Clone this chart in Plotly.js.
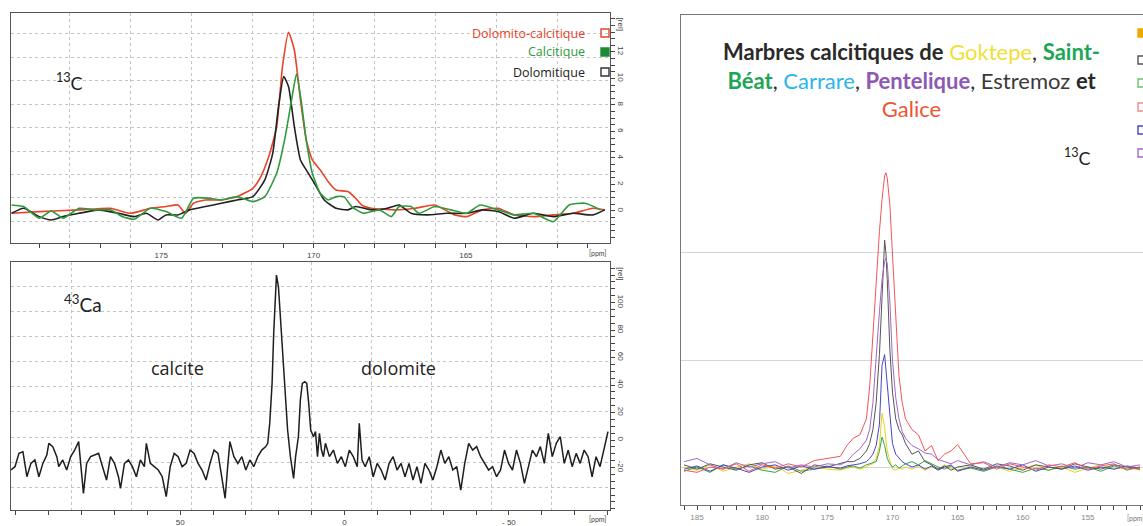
<!DOCTYPE html>
<html><head><meta charset="utf-8">
<script src="https://cdn.plot.ly/plotly-3.0.1.min.js"></script>
<style>html,body{margin:0;padding:0;background:#fff;overflow:hidden}</style>
</head><body><div id="chart" style="width:1143px;height:526px"></div>
<script>
// ---------- Panel A : 13C spectra (ppm, rel) ----------
const c13RedX = [179.91,179.0,177.70,176.66,176.01,175.36,174.84,174.45,174.20,173.94,173.55,173.03,172.51,171.99,171.73,171.47,171.21,171.02,170.82,170.63,170.43,170.24,170.04,169.78,169.52,169.26,168.87,168.62,168.42,168.10,167.32,166.67,166.02,165.37,164.98,164.46,163.94,163.42,162.78,162.13,161.48,160.83,160.44];
const c13RedY = [-0.18,-0.05,0.08,0.20,-0.18,0.20,0.33,0.45,-0.18,0.58,0.83,0.83,1.08,1.71,2.59,4.10,6.36,10.89,13.48,12.15,8.38,5.36,3.85,3.09,2.21,1.58,1.46,0.96,0.45,0.20,0.08,0.20,0.45,-0.30,-0.43,0.08,0.20,-0.30,-0.43,-0.30,-0.18,0.20,0.08];
const c13BlackX = [179.91,179.52,179.0,178.61,178.22,177.70,177.05,176.40,175.88,175.49,175.10,174.84,174.45,174.07,173.55,173.03,172.51,171.99,171.60,171.34,171.15,170.98,170.82,170.63,170.43,170.17,169.91,169.65,169.26,168.87,168.62,168.10,167.58,167.19,166.80,166.28,165.63,164.98,164.46,163.94,163.42,162.78,162.13,161.48,160.83,160.44];
const c13BlackY = [-0.18,0.20,-0.43,-0.68,-0.43,-0.18,0.08,-0.18,-0.43,-0.18,-0.68,-0.30,-0.30,0.08,0.33,0.58,0.83,1.08,2.34,4.35,7.87,10.14,9.38,6.36,3.85,2.84,1.84,0.83,0.20,0.08,0.33,0.08,0.20,0.45,-0.18,-0.30,-0.18,-0.18,0.08,-0.05,-0.55,-0.18,-0.43,-0.18,-0.30,0.08];
const c13GreenX = [179.91,179.52,179.0,178.61,178.22,177.70,177.18,176.66,176.27,175.88,175.36,174.84,174.33,173.94,173.42,173.03,172.51,171.99,171.60,171.21,170.95,170.72,170.56,170.41,170.24,170.04,169.78,169.52,169.26,169.0,168.75,168.36,167.84,167.45,167.19,166.80,166.54,166.02,165.50,164.98,164.53,163.94,163.42,162.78,162.13,161.61,161.09,160.57];
const c13GreenY = [0.45,0.33,-0.55,0.0,-0.55,0.20,0.08,0.08,-0.43,-0.63,0.20,-0.05,-0.55,0.96,0.96,0.83,1.08,0.70,1.08,2.84,5.36,8.38,10.34,8.38,5.36,2.84,1.33,0.83,1.08,1.08,0.33,-0.18,0.08,-0.43,0.33,0.33,-0.18,0.33,0.08,-0.18,0.45,0.08,-0.30,-0.18,-0.81,0.45,0.58,0.08];
const c13Names = ["Dolomito-calcitique","Calcitique","Dolomitique"];

// ---------- Panel B : 43Ca spectrum ----------
const caX = [101.45,100.24,99.03,97.82,96.61,95.39,94.18,92.97,91.76,90.55,
 89.95,88.74,87.52,86.92,85.71,84.50,83.29,82.08,80.87,80.26,
 79.41,78.44,77.23,76.02,74.81,73.60,72.39,71.18,69.97,68.76,
 68.15,66.94,65.73,64.52,63.31,62.10,60.89,60.28,59.07,57.86,
 56.65,55.44,54.23,53.02,51.81,50.60,49.39,48.18,46.97,45.76,
 44.55,43.33,42.12,40.91,39.70,38.49,37.28,36.31,35.46,34.86,
 33.65,32.44,31.23,30.02,28.81,27.60,26.38,25.17,23.96,23.36,
 22.75,22.03,21.54,21.06,20.70,20.09,19.49,18.88,18.15,17.31,
 16.46,15.49,14.88,14.03,13.43,12.83,12.10,11.49,10.89,10.28,
 9.44,8.83,8.22,7.62,7.01,6.41,5.80,4.59,3.38,2.17,
 0.96,-0.25,-1.46,-2.67,-3.88,-4.49,-5.34,-6.30,-7.52,-8.73,
 -9.94,-11.15,-12.36,-13.57,-14.78,-15.99,-17.20,-18.41,-19.62,-20.83,
 -22.04,-23.25,-24.46,-25.68,-26.89,-28.10,-29.31,-30.52,-31.73,-32.94,
 -34.15,-35.36,-36.57,-37.78,-38.99,-40.20,-41.41,-42.62,-43.84,-45.05,
 -46.26,-47.47,-48.68,-49.89,-51.10,-52.31,-53.52,-54.73,-55.94,-57.15,
 -58.36,-59.57,-60.78,-61.99,-63.21,-64.42,-65.63,-66.84,-68.05,-69.26,
 -70.47,-71.68,-72.89,-74.10,-75.31,-76.52,-77.73,-78.94,-80.15];
const caY = [-21.8,-19.4,-9.7,-8.5,-26.7,-17.0,-14.5,-26.7,-17.0,-10.9,
 -2.4,-4.8,-12.1,-19.4,-14.5,-21.8,-12.1,-7.3,-1.2,-19.4,
 -38.8,-17.0,-12.1,-10.9,-9.7,-19.4,-29.1,-12.1,-17.0,-26.7,
 -35.1,-17.0,-14.5,-19.4,-26.7,-14.5,-19.4,-2.4,-17.0,-19.4,
 -21.8,-26.7,-41.2,-19.4,-9.7,-12.1,-19.4,-17.0,-7.3,-9.7,
 -17.0,-21.8,-29.1,-17.0,-7.3,-9.7,-26.7,-42.4,-17.0,-1.2,
 -12.1,-17.0,-12.1,-21.8,-14.5,-19.4,-12.1,-7.3,-4.8,-2.4,
 12.1,41.2,77.6,109.1,120.0,111.5,89.7,65.5,36.4,7.3,
 -12.1,-27.9,-12.1,2.4,29.1,41.2,42.4,41.2,26.7,7.3,
 2.4,6.1,-12.1,4.9,-7.3,-12.1,-2.4,-12.1,-7.3,-17.0,
 -12.1,-19.4,-7.3,-12.1,-19.4,12.1,-14.5,-19.4,-12.1,-26.7,
 -17.0,-21.8,-29.1,-17.0,-12.1,-21.8,-17.0,-26.7,-17.0,-29.1,
 -19.4,-31.5,-17.0,-21.8,-29.1,-19.4,-7.3,-17.0,-12.1,-21.8,
 -19.4,-36.4,-17.0,-2.4,-7.3,-4.8,-12.1,-17.0,-21.8,-19.4,
 -26.7,-21.8,-7.3,-17.0,-21.8,-7.3,-17.0,-31.5,-19.4,-7.3,
 -12.1,-4.8,-17.0,4.9,-12.1,-2.4,2.4,-17.0,-7.3,-19.4,
 -9.7,-17.0,-7.3,-12.1,-26.7,-12.1,-19.4,-7.3,6.1];

// ---------- Panel C : 13C of calcitic marbles ----------
const marbleX = [186,185,184,183,182,181,180,179,178,177,176,175,174,173.5,173,172.5,172,171.75,171.5,171.25,171,170.8,170.6,170.5,170.4,170.2,170,169.75,169.5,169.25,169,168.5,168,167.5,167,166.5,166,165.5,165,164,163,162,161,160,159,158,157,156,155,154,153,152,151];
const goktepeY = [0.0,-0.03,0.02,-0.04,0.0,0.03,-0.02,0.01,-0.06,-0.03,0.0,-0.02,-0.03,-0.01,0.0,-0.02,0.0,0.02,0.03,0.08,0.2,0.5,0.38,0.25,0.15,0.06,-0.02,-0.03,-0.01,-0.02,0.0,-0.02,0.01,-0.03,0.0,-0.02,0.02,-0.01,-0.03,0.01,-0.02,0.0,-0.04,-0.01,0.02,-0.03,0.0,-0.05,-0.01,0.02,-0.02,0.0,-0.03];
const saintBeatY = [-0.04,0.0,-0.05,0.02,-0.02,0.01,-0.03,-0.05,0.01,-0.04,-0.02,0.01,-0.02,0.0,0.01,-0.01,0.02,0.03,0.04,0.05,0.15,0.28,0.2,0.12,0.08,0.03,0.0,0.02,-0.01,0.01,0.03,0.05,0.02,0.06,0.03,0.0,-0.02,0.01,-0.03,-0.01,-0.04,0.0,-0.02,-0.05,-0.01,-0.03,0.01,-0.02,0.0,-0.04,0.01,-0.02,0.0];
const carrareY = [-0.02,0.01,-0.04,0.02,-0.01,-0.05,0.0,0.02,-0.03,0.01,-0.02,0.0,-0.01,0.01,0.02,0.03,0.05,0.08,0.12,0.2,0.4,0.95,1.05,0.9,0.75,0.45,0.22,0.12,0.08,0.05,0.03,0.0,0.02,-0.02,0.01,-0.03,0.0,0.02,-0.04,0.0,-0.03,0.01,-0.02,0.02,-0.04,0.0,-0.02,0.01,-0.03,0.0,-0.02,0.01,-0.01];
const estremozY = [0.02,-0.02,0.03,0.0,-0.03,0.02,0.04,-0.02,0.0,-0.06,0.02,0.0,0.03,0.05,0.05,0.08,0.15,0.22,0.35,0.6,1.05,1.65,2.12,2.0,1.75,1.1,0.7,0.45,0.35,0.3,0.22,0.12,0.15,0.05,0.02,-0.02,0.01,-0.03,0.0,0.02,-0.02,0.03,0.01,-0.03,0.02,0.0,-0.02,0.03,0.0,-0.02,0.02,0.0,-0.02];
const penteliqueY = [0.05,0.08,0.02,-0.02,0.04,0.0,0.03,0.05,-0.01,0.02,0.0,0.03,0.02,0.05,0.12,0.17,0.25,0.35,0.6,1.05,1.45,1.75,1.92,1.95,1.9,1.55,1.0,0.65,0.45,0.33,0.27,0.2,0.17,0.13,0.12,0.07,0.05,0.03,0.06,0.02,0.05,0.0,0.04,0.02,0.06,0.01,0.03,-0.01,0.04,0.02,0.05,0.0,0.02];
const galiceY = [-0.03,-0.05,0.0,-0.02,0.03,-0.04,0.02,-0.01,0.03,0.0,0.06,0.08,0.1,0.2,0.27,0.3,0.45,0.75,1.25,1.75,2.2,2.5,2.72,2.75,2.7,2.45,2.0,1.35,0.85,0.6,0.45,0.35,0.3,0.15,0.2,0.06,0.12,0.15,0.21,0.03,0.04,-0.02,0.03,0.0,-0.03,0.02,0.0,0.04,-0.02,0.01,0.03,-0.03,0.0];
const marbleNames = ["Goktepe","Saint-Béat","Carrare","Estremoz","Pentelique","Galice"];

// ---------- tick labels ----------
const topTickLabels = [175,170,165];
const caTickLabels = [50,0,-50];
const marbleTickLabels = [185,180,175,170,165,160,155];
const topYLabels = [0,2,4,6,8,10,12];
const caYLabels = [-20,0,20,40,60,80,100];

function ticks(from,to,step,labelled,fmt,extra){
  const v=[],t=[];
  for(let k=from; step>0 ? k<=to+1e-9 : k>=to-1e-9; k+=step){
    const r=Math.round(k*100)/100; v.push(r);
    if(extra && Math.abs(r-extra[0])<1e-6) t.push(extra[1]);
    else t.push(labelled.some(l=>Math.abs(l-r)<1e-6)?fmt(r):' ');
  }
  return {tickvals:v,ticktext:t};
}
const tf={size:8,color:'#444',family:'Liberation Sans, Arial, sans-serif'};
const tx1=ticks(180,161,-1,topTickLabels,String);
const ty1=ticks(-2,14.5,0.5,topYLabels,String,[14,'[rel]']);
const tx2=ticks(100,-80,-10,caTickLabels,v=>v<0?'- '+(-v):String(v));
const ty2=ticks(-50,125,5,caYLabels,String,[120,'[rel]']);
const tx3=ticks(186,151,-1,marbleTickLabels,String);

const frame={showline:true,linecolor:'#555',linewidth:1,mirror:true,zeroline:false,showgrid:false,tickfont:tf,tickcolor:'#444'};
const grid={showgrid:true,griddash:'dot',gridcolor:'#c4c4c4',gridwidth:1,showticklabels:false,ticks:'',zeroline:false,showline:false,tickmode:'linear'};

const traces=[
 {x:c13RedX,y:c13RedY,name:c13Names[0],mode:'lines',line:{color:'#e8432b',width:1.6,shape:'spline',smoothing:0.5},xaxis:'x',yaxis:'y'},
 {x:c13BlackX,y:c13BlackY,name:c13Names[2],mode:'lines',line:{color:'#222',width:1.6,shape:'spline',smoothing:0.5},xaxis:'x',yaxis:'y'},
 {x:c13GreenX,y:c13GreenY,name:c13Names[1],mode:'lines',line:{color:'#2f9a3c',width:1.6,shape:'spline',smoothing:0.5},xaxis:'x',yaxis:'y'},
 {x:caX,y:caY,name:'43Ca',mode:'lines',line:{color:'#1e1e1e',width:1.5},xaxis:'x2',yaxis:'y2'},
 {x:marbleX,y:goktepeY,name:marbleNames[0],mode:'lines',line:{color:'#e6d21e',width:1},xaxis:'x3',yaxis:'y3'},
 {x:marbleX,y:saintBeatY,name:marbleNames[1],mode:'lines',line:{color:'#3aa04a',width:1},xaxis:'x3',yaxis:'y3'},
 {x:marbleX,y:carrareY,name:marbleNames[2],mode:'lines',line:{color:'#4646c8',width:1},xaxis:'x3',yaxis:'y3'},
 {x:marbleX,y:estremozY,name:marbleNames[3],mode:'lines',line:{color:'#555',width:1},xaxis:'x3',yaxis:'y3'},
 {x:marbleX,y:penteliqueY,name:marbleNames[4],mode:'lines',line:{color:'#a067c8',width:1},xaxis:'x3',yaxis:'y3'},
 {x:marbleX,y:galiceY,name:marbleNames[5],mode:'lines',line:{color:'#f2555a',width:1},xaxis:'x3',yaxis:'y3'},
 {x:[],y:[],xaxis:'x4',yaxis:'y4',hoverinfo:'skip',showlegend:false},
 {x:[],y:[],xaxis:'x5',yaxis:'y5',hoverinfo:'skip',showlegend:false}
];

const W=1143,H=526;
const px=x=>x/W, py=y=>1-y/H;
const ann=(x,y,text,size,color,xa,fam,extra)=>Object.assign({xref:'paper',yref:'paper',x:px(x),y:py(y),text:text,showarrow:false,xanchor:xa||'center',yanchor:'middle',font:{size:size,color:color,family:fam||'Lato, "Open Sans", sans-serif'}},extra||{});
const OS='"Open Sans", Lato, sans-serif';

const title = '<b>Marbres calcitiques de</b> <span style="color:#f0e034">Goktepe</span>, <b><span style="color:#1ea656">Saint-</span></b><br>'+
 '<b><span style="color:#1ea656">Béat</span></b>, <span style="color:#2bb5ea">Carrare</span>, <b><span style="color:#8d58b6">Pentelique</span></b>, <span style="color:#3a3a3a">Estremoz</span> <b>et</b><br>'+
 '<span style="color:#ec5532">Galice</span>';

const annotations=[
 ann(69,82,'<sup>13</sup>C',18,'#222'),
 ann(83,303,'<sup>43</sup>Ca',19,'#222'),
 ann(177,368,'calcite',18,'#222','center',OS),
 ann(398,368,'dolomite',18,'#222','center',OS),
 ann(587,33,'Dolomito-calcitique',12.5,'#e8432b','right',OS),
 ann(587,52,'Calcitique',12.5,'#2f9a3c','right',OS),
 ann(587,72,'Dolomitique',12.5,'#222','right',OS),
 ann(598,253,'[ppm]',7,'#444'),
 ann(598,519,'[ppm]',7,'#444'),
 ann(1136,518,'[ppm]',7,'#777'),
 ann(911,80,title,22,'#2a2a2a','center',null,{align:'center'}),
 ann(1077,157,'<sup>13</sup>C',18,'#222')
];

const sq=(x,y,color,filled)=>({type:'rect',xref:'paper',yref:'paper',x0:px(x-4),x1:px(x+4),y0:py(y+4),y1:py(y-4),line:{color:color,width:1.4},fillcolor:filled?color:'rgba(0,0,0,0)'});
const shapes=[
 sq(605,33,'#e8432b',false), sq(605,52,'#1f8a36',true), sq(605,72,'#333',false),
 sq(1142,33,'#f0a800',true), sq(1142,60,'#555',false), sq(1142,83,'#6fbf6f',false),
 sq(1142,107,'#f08a8a',false), sq(1142,130,'#4646c8',false), sq(1142,153,'#a067c8',false)
];

const layout={
 width:W,height:H,margin:{l:0,r:0,t:0,b:0},paper_bgcolor:'#fff',plot_bgcolor:'#fff',showlegend:false,
 xaxis:Object.assign({},frame,{domain:[px(11),px(610)],anchor:'y',range:[179.93,160.27],tickmode:'array',tickvals:tx1.tickvals,ticktext:tx1.ticktext,ticks:'outside',ticklen:4}),
 yaxis:Object.assign({},frame,{domain:[py(243),py(13)],anchor:'x',side:'right',range:[-2.42,14.94],tickmode:'array',tickvals:ty1.tickvals,ticktext:ty1.ticktext,ticks:'outside',ticklen:4,tickangle:90}),
 xaxis2:Object.assign({},frame,{domain:[px(11),px(610)],anchor:'y2',range:[101.45,-80.76],tickmode:'array',tickvals:tx2.tickvals,ticktext:tx2.ticktext,ticks:'outside',ticklen:4}),
 yaxis2:Object.assign({},frame,{domain:[py(510),py(262)],anchor:'x2',side:'right',range:[-50.9,129.5],tickmode:'array',tickvals:ty2.tickvals,ticktext:ty2.ticktext,ticks:'outside',ticklen:4,tickangle:90}),
 xaxis3:Object.assign({},frame,{domain:[px(681),1],anchor:'y3',range:[186.23,150.77],tickmode:'array',tickvals:tx3.tickvals,ticktext:tx3.ticktext,ticks:'outside',ticklen:4,linecolor:'#777',tickfont:{size:8,color:'#888',family:'Liberation Sans, Arial, sans-serif'}}),
 yaxis3:Object.assign({},frame,{domain:[py(505),py(15)],anchor:'x3',side:'right',range:[-0.355,4.224],tickmode:'array',tickvals:[0,1,2],showticklabels:false,showgrid:true,gridcolor:'#d6d6d6',ticks:'',linecolor:'#777'}),
 xaxis4:Object.assign({},grid,{overlaying:'x',anchor:'y',range:[179.93,160.27],tick0:0,dtick:2}),
 yaxis4:Object.assign({},grid,{overlaying:'y',anchor:'x',range:[-2.42,14.94],tick0:0.98,dtick:1.77}),
 xaxis5:Object.assign({},grid,{overlaying:'x2',anchor:'y2',range:[101.45,-80.76],tick0:10,dtick:18.25}),
 yaxis5:Object.assign({},grid,{overlaying:'y2',anchor:'x2',range:[-50.9,129.5],tick0:2.2,dtick:18.2}),
 annotations:annotations,shapes:shapes
};
Plotly.newPlot('chart',traces,layout,{staticPlot:true,displayModeBar:false});
</script></body></html>
